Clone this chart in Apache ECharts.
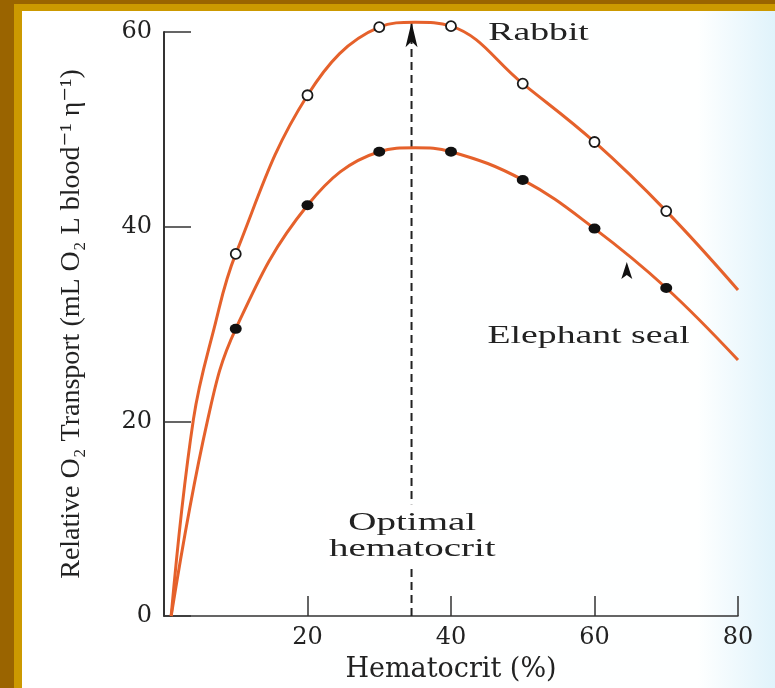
<!DOCTYPE html>
<html><head><meta charset="utf-8">
<script src="https://cdn.jsdelivr.net/npm/echarts@6/dist/echarts.min.js"></script>
<style>html,body{margin:0;padding:0;background:#fff;overflow:hidden}#c{width:775px;height:688px}</style>
</head><body><div id="c"></div>
<script>
// ---- data ----
const hematocrit = [10, 20, 30, 40, 50, 60, 70];
const rabbitO2 = [37.2, 53.5, 60.5, 60.6, 54.7, 48.7, 41.6];
const sealO2 = [29.5, 42.2, 47.7, 47.7, 44.8, 39.8, 33.7];
// points
const rabbitCurveX = [1, 4.1, 7, 10, 20, 30, 35, 40, 50, 60, 70, 80];
const rabbitCurveY = [0, 20.2, 29.6, 37.2, 53.5, 60.5, 61.0, 60.6, 54.7, 48.7, 41.6, 33.5];
const sealCurveX = [1, 6.1, 10, 20, 30, 35, 40, 50, 60, 70, 80];
const sealCurveY = [0, 20.2, 29.5, 42.2, 47.7, 48.1, 47.7, 44.8, 39.8, 33.7, 26.3];
const optimalHematocrit = 34.5;
const optimalArrowTop = 61.0;
const sealArrow = [64.5, 35.5];
const xRange = [0, 80];
const yRange = [0, 60];
const xTickLabels = ['', '20', '40', '60', '80'];
const yTickLabels = ['0', '20', '40', '60'];
const annotationTexts = ['Rabbit', 'Elephant seal', 'Optimal\nhematocrit'];
const annotationAt = [[45.2, 59.9], [45.1, 28.8], [34.6, 8.2]];

const ORANGE = '#e5612b';
const INK = '#222222';
const AXIS = '#333333';
const SERIF = '"Liberation Serif", "DejaVu Serif", serif';

const zip = (xs, ys) => xs.map((x, i) => [x, ys[i]]);
const arrowPath = 'path://M0,0 L5,22 L0,17 L-5,22 Z';

const chart = echarts.init(document.getElementById('c'));
chart.setOption({
  animation: false,
  backgroundColor: {
    type: 'linear', x: 0, y: 0, x2: 1, y2: 0,
    colorStops: [
      { offset: 0, color: '#ffffff' },
      { offset: 0.9, color: '#feffff' },
      { offset: 1, color: '#e0f3fb' }
    ]
  },
  graphic: [
    { type: 'rect', left: 0, top: 0, shape: { width: 14, height: 688 }, style: { fill: '#9a6400' }, z: 100 },
    { type: 'rect', left: 0, top: 0, shape: { width: 775, height: 4 }, style: { fill: '#9a6400' }, z: 100 },
    { type: 'rect', left: 14, top: 4, shape: { width: 8, height: 684 }, style: { fill: '#cc9900' }, z: 100 },
    { type: 'rect', left: 14, top: 4, shape: { width: 761, height: 7 }, style: { fill: '#cc9900' }, z: 100 }
  ],
  grid: { left: 164, right: 37, top: 32, bottom: 68 },
  xAxis: {
    type: 'value', min: xRange[0], max: xRange[1], interval: 20,
    name: 'Hematocrit (%)', nameLocation: 'middle', nameGap: 40,
    nameTextStyle: { fontFamily: '"DejaVu Serif", serif', fontSize: 27, color: INK },
    axisLine: { show: true, onZero: false, lineStyle: { color: AXIS, width: 1.5 } },
    axisTick: { show: true, inside: true, length: 20, lineStyle: { color: AXIS, width: 1.5 } },
    axisLabel: {
      margin: 10, fontFamily: '"DejaVu Serif", serif', fontSize: 24, color: INK,
      formatter: (v) => xTickLabels[Math.round(v / 20)]
    },
    splitLine: { show: false }
  },
  yAxis: {
    type: 'value', min: yRange[0], max: yRange[1], interval: 20,
    name: 'Relative O\u2082 Transport (mL O\u2082 L blood\u207B\u00B9 \u03B7\u207B\u00B9)',
    nameLocation: 'middle', nameRotate: 90, nameGap: 78,
    nameTextStyle: { fontFamily: SERIF, fontSize: 28, color: INK },
    axisLine: { show: true, onZero: false, lineStyle: { color: AXIS, width: 2 } },
    axisTick: { show: true, inside: true, length: 27, lineStyle: { color: AXIS, width: 1.5 } },
    axisLabel: {
      margin: 12, fontFamily: '"DejaVu Serif", serif', fontSize: 24, color: INK,
      formatter: (v) => yTickLabels[Math.round(v / 20)]
    },
    splitLine: { show: false }
  },
  series: [
    {
      name: 'Y axis line', type: 'line', clip: false, z: 2, symbol: 'none', silent: true,
      data: [[xRange[0], yRange[0]], [xRange[0], yRange[1]]],
      lineStyle: { color: AXIS, width: 2 }
    },
    {
      name: 'Optimal hematocrit', type: 'line', clip: false, z: 3,
      data: [
        { value: [optimalHematocrit, 0], symbol: 'none' },
        { value: [optimalHematocrit, optimalArrowTop], symbol: arrowPath, symbolSize: [12, 25], symbolOffset: [0, '50%'] }
      ],
      showSymbol: true,
      lineStyle: { color: INK, width: 2, type: [8, 5] },
      itemStyle: { color: '#111' }
    },
    {
      name: 'Rabbit curve', type: 'line', smooth: 0.4, clip: false, symbol: 'none', z: 4,
      data: zip(rabbitCurveX, rabbitCurveY),
      lineStyle: { color: ORANGE, width: 3 }
    },
    {
      name: 'Elephant seal curve', type: 'line', smooth: 0.4, clip: false, symbol: 'none', z: 4,
      data: zip(sealCurveX, sealCurveY),
      lineStyle: { color: ORANGE, width: 3 }
    },
    {
      name: 'Rabbit', type: 'scatter', clip: false, z: 5, symbol: 'circle', symbolSize: 10,
      data: zip(hematocrit, rabbitO2),
      itemStyle: { color: '#ffffff', borderColor: '#1a1a1a', borderWidth: 1.8, opacity: 1 }
    },
    {
      name: 'Elephant seal', type: 'scatter', clip: false, z: 5, symbol: 'circle', symbolSize: [12, 10],
      data: zip(hematocrit, sealO2),
      itemStyle: { color: '#111111', opacity: 1 }
    },
    {
      name: 'Seal marker', type: 'scatter', clip: false, z: 5, symbol: arrowPath, symbolSize: [11, 17],
      data: [sealArrow],
      itemStyle: { color: '#111111', opacity: 1 }
    },
    {
      name: 'Annotations', type: 'custom', clip: false, z: 6,
      data: annotationAt.map((p, i) => [p[0], p[1], i]),
      renderItem: (params, api) => {
        const pt = api.coord([api.value(0), api.value(1)]);
        const i = api.value(2);
        const centered = i === 2;
        return {
          type: 'text', x: pt[0], y: pt[1], scaleX: centered ? 1.5 : 1.45,
          style: {
            text: annotationTexts[i],
            font: '26px ' + SERIF,
            fill: INK,
            align: centered ? 'center' : 'left',
            verticalAlign: 'middle',
            lineHeight: 26,
            backgroundColor: centered ? '#ffffff' : 'transparent',
            padding: centered ? [6, 2, 6, 2] : 0
          }
        };
      }
    }
  ]
});
</script></body></html>
